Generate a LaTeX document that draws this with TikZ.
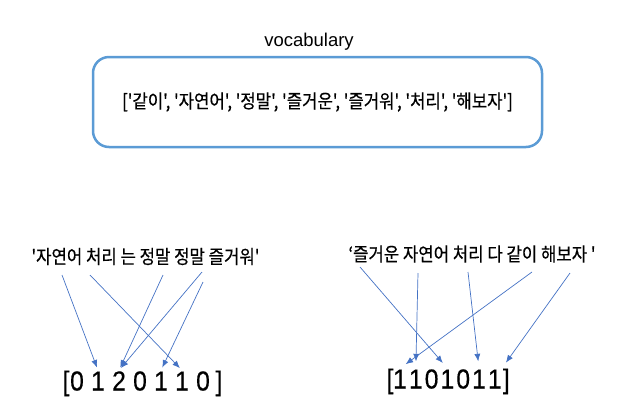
\documentclass[tikz,border=0pt]{standalone}
\usepackage{fontspec}
\setmainfont{Liberation Sans}
\newfontfamily\kor[FakeStretch=0.88,FakeBold=0.5]{Noto Sans CJK KR}
\newfontfamily\numfont[FakeStretch=0.9,FakeBold=0.4]{Liberation Sans}
\usetikzlibrary{arrows.meta}
\definecolor{boxblue}{RGB}{91,155,213}
\definecolor{arrblue}{RGB}{68,114,196}

\begin{document}
\begin{tikzpicture}[x=1pt,y=-1pt]
	\tikzstyle{voc} = [rectangle,rounded corners=16pt,line width=2.5pt,draw=boxblue,
	minimum width=449pt,minimum height=90pt,inner sep=0pt,font=\kor\fontsize{19}{22}\selectfont]
	\tikzstyle{sent} = [inner sep=0pt,font=\kor\fontsize{19}{22}\selectfont]
	\tikzstyle{num} = [inner sep=0pt,text height=20pt,text depth=5pt,font=\numfont\fontsize{27.5}{30}\selectfont]
	\tikzstyle{arr} = [-{Latex[length=7.5pt,width=6pt]},arrblue,line width=0.7pt]
	\useasboundingbox (0,0) rectangle (635,416);
	\node (title) [anchor=base,font=\fontsize{18.5}{22}\selectfont] at (309,46) {vocabulary};
	\node (vocab) [voc] at (317.5,102) {['같이', '자연어', '정말', '즐거운', '즐거워', '처리', '해보자']};
	% sentences
	\node (sent1) [sent] at (145.5,256.5) {'자연어 처리 는 정말 정말 즐거워'};
	\node (sent2) [sent] at (472,254) {‘즐거운 자연어 처리 다 같이 해보자 '};
	% vector 1
	\node (a0) [num] at (77,383) {0};
	\node (a1) [num, right of=a0, node distance=21pt] {1};
	\node (a2) [num, right of=a1, node distance=21pt] {2};
	\node (a3) [num, right of=a2, node distance=21pt] {0};
	\node (a4) [num, right of=a3, node distance=21pt] {1};
	\node (a5) [num, right of=a4, node distance=21pt] {1};
	\node (a6) [num, right of=a5, node distance=21pt] {0};
	\node (al) [num, left of=a0, node distance=11pt] {[};
	\node (ar) [num, right of=a6, node distance=16pt] {]};
	% vector 2
	\node (b0) [num] at (400,381) {1};
	\node (b1) [num, right of=b0, node distance=15.8pt] {1};
	\node (b2) [num, right of=b1, node distance=15.8pt] {0};
	\node (b3) [num, right of=b2, node distance=15.8pt] {1};
	\node (b4) [num, right of=b3, node distance=15.8pt] {0};
	\node (b5) [num, right of=b4, node distance=15.8pt] {1};
	\node (b6) [num, right of=b5, node distance=15.8pt] {1};
	\node (bl) [num, left of=b0, node distance=10pt] {[};
	\node (br) [num, right of=b6, node distance=11.5pt] {]};
	% arrows
	\coordinate (p1) at (62,275);
	\coordinate (p2) at (90,275);
	\coordinate (p3) at (163,275);
	\coordinate (p4) at (202,272);
	\coordinate (p5) at (203,282);
	\draw [arr,shorten >=3pt] (p1) -- (a1.north);
	\draw [arr,shorten >=3pt] (p2) -- (a5.north);
	\draw [arr,shorten >=3pt] (p3) -- (a2.north);
	\draw [arr,shorten >=3pt] (p4) -- (a2.north);
	\draw [arr,shorten >=3pt] (p5) -- (a4.north);
	\coordinate (q1) at (360,267);
	\coordinate (q2) at (418,273);
	\coordinate (q3) at (468,272);
	\coordinate (q4) at (532,272);
	\coordinate (q5) at (570,273);
	\draw [arr,shorten >=7pt] (q1) -- (b3.north);
	\draw [arr,shorten >=7pt] (q2) -- (b1.north);
	\draw [arr,shorten >=7pt] (q3) -- (b5.north);
	\draw [arr,shorten >=7pt] (q4) -- (b0.north);
	\draw [arr,shorten >=7pt] (q5) -- (b6.north east);
\end{tikzpicture}
\end{document}
